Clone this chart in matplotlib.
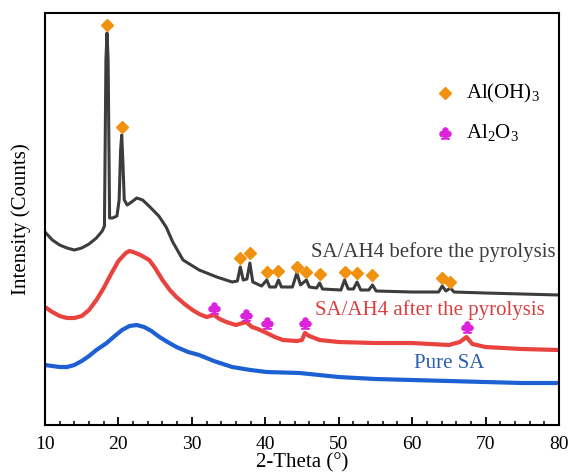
import numpy as np
import matplotlib
matplotlib.use("Agg")
import matplotlib.pyplot as plt
from matplotlib.ticker import MultipleLocator

plt.rcParams['font.family'] = ['Liberation Serif', 'DejaVu Serif']
plt.rcParams['mathtext.fontset'] = 'custom'
plt.rcParams['mathtext.rm'] = 'Liberation Serif'

#XRD patterns (2-theta in degrees, intensity in a.u.)
before_x = [10, 11, 12, 13, 14, 15, 16, 17, 17.8, 18.1, 18.3, 18.45, 18.6, 18.8, 19.2, 19.8,
            20.1, 20.3, 20.45, 20.6, 20.8, 21.2, 21.8, 22.5, 23.3, 24.3, 25.5, 26.5, 27.4, 28.8,
            31, 33.4, 35.5, 36.2, 36.6, 37.0, 37.5, 37.9, 38.3, 39.5, 40.2, 40.6, 41.4, 41.8,
            42.2, 43.7, 44.3, 44.8, 45.6, 46.0, 47.0, 47.4, 47.8, 50.3, 50.8, 51.3, 52.0, 52.5,
            53.0, 54.1, 54.6, 55.1, 60, 63.6, 64.1, 64.6, 65.2, 65.7, 70, 75, 80]
before_y = [193, 185, 180, 177, 175, 177, 181, 187, 194, 199, 365, 392, 365, 207, 207, 209,
            225, 275, 290, 265, 225, 220, 223, 227, 225, 218, 209, 198, 183, 165,
            155, 148, 143, 144, 158, 145, 146, 162, 143, 139, 145, 138, 138, 145,
            138, 138, 152, 140, 145, 138, 137, 142, 136, 135, 145, 136, 136, 143,
            135, 135, 140, 134, 133, 133, 139, 134, 137, 133, 132, 131, 130]

after_x = [10, 11, 12, 13, 14, 15, 16, 17, 18, 19, 20, 21, 21.5, 22, 23, 24.2, 25, 26, 27,
           27.9, 29, 30.1, 31, 32, 33, 33.8, 34.7, 36, 37.4, 38.2, 39, 40.2, 41.3, 42.4, 44.3,
           45.0, 45.4, 46, 47.4, 50, 55, 60, 65, 66.5, 67.4, 68.2, 70, 75, 80]
after_y = [118, 113, 109, 107, 107, 109, 115, 125, 137, 151, 164, 172, 174, 173, 170, 165, 157,
           145, 135, 128, 121, 115, 111, 108, 110, 106, 103, 100, 103, 98, 96, 92, 88, 85, 84,
           85, 92, 89, 85, 83, 82, 82, 80, 83, 88, 81, 78, 76, 75]

pure_x = [10, 11, 12, 13, 14, 15, 16, 17, 18.4, 19.5, 20.5, 21.5, 22.5, 23.5, 24.5, 25.6, 26.7,
          27.9, 29.5, 31, 33, 35.5, 38, 40.2, 44.7, 50, 55, 60, 65, 70, 75, 80]
pure_y = [60, 59, 58, 58, 60, 64, 69, 75, 82, 89, 95, 99, 100, 98, 94, 88, 83,
          78, 73, 70, 64, 58, 55, 53, 52, 48, 46, 45, 44, 43, 42, 42]

#Phase markers
aloh3_x = [18.45, 20.45, 36.6, 37.9, 40.2, 41.8, 44.3, 45.6, 47.4, 50.8, 52.5, 54.6, 64.1, 65.2]
aloh3_y = [400, 298, 167, 172, 153, 154, 158, 153, 151, 153, 152, 150, 147, 143]
al2o3_x = [33.0, 37.4, 40.3, 45.4, 67.5]
al2o3_y = [117, 110, 102, 102, 98]

c_black = '#3c3c3c'
c_red = '#e8433f'
c_blue = '#1d60d4'
c_orange = '#f0920f'
c_magenta = '#dd22dd'

fig = plt.figure(figsize=(5.7, 4.76), dpi=100)
ax = fig.add_axes([0.0789, 0.1071, 0.9018, 0.8656])

ax.plot(before_x, before_y, color=c_black, lw=2.2)
ax.plot(after_x, after_y, color=c_red, lw=3.0)
ax.plot(pure_x, pure_y, color=c_blue, lw=3.0)

ax.plot(aloh3_x, aloh3_y, ls='none', marker='D', ms=6, color=c_orange, mec=c_orange)
ax.plot(al2o3_x, al2o3_y, ls='none', marker=r'$\clubsuit$', ms=8, color=c_magenta)

#Curve labels
ax.text(79.6, 173, 'SA/AH4 before the pyrolysis', color=c_black, fontsize=15, ha='right', va='center')
ax.text(78.0, 115, 'SA/AH4 after the pyrolysis', color='#d84040', fontsize=15, ha='right', va='center')
ax.text(60.3, 62, 'Pure SA', color='#2a5fb0', fontsize=15, ha='left', va='center')

#Legend drawn by hand
ax.plot([64.5], [332], ls='none', marker='D', ms=6, color=c_orange)
ax.text(67.4, 332, r'Al(OH)$_3$', fontsize=15, ha='left', va='center')
ax.plot([64.5], [292], ls='none', marker=r'$\clubsuit$', ms=8, color=c_magenta)
ax.text(67.4, 292, r'Al$_2$O$_3$', fontsize=15, ha='left', va='center')

ax.set_xlim(10, 80)
ax.set_ylim(0, 412)
ax.set_yticks([])
ax.xaxis.set_major_locator(MultipleLocator(10))
ax.xaxis.set_minor_locator(MultipleLocator(2))
ax.tick_params(axis='x', which='major', direction='in', length=6, width=1.3, labelsize=14, pad=8)
ax.tick_params(axis='x', which='minor', direction='in', length=3, width=1.1)
for s in ax.spines.values():
    s.set_linewidth(1.5)

ax.set_xlabel('2-Theta (°)', fontsize=15, labelpad=0)
ax.set_ylabel('Intensity (Counts)', fontsize=15, labelpad=10)

fig.savefig('out.png', dpi=100)
